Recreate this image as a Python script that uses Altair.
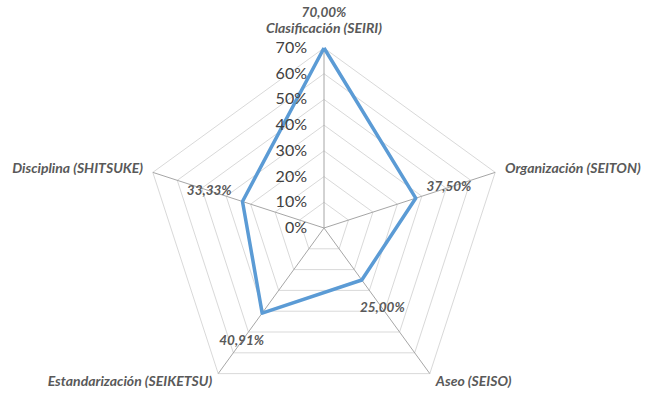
import altair as alt
import pandas as pd

categories = ["Clasificación (SEIRI)", "Organización (SEITON)", "Aseo (SEISO)",
              "Estandarización (SEIKETSU)", "Disciplina (SHITSUKE)"]
values = [70.00, 37.50, 25.00, 40.91, 33.33]
levels = [0, 10, 20, 30, 40, 50, 60, 70]
tick_labels = ["0%", "10%", "20%", "30%", "40%", "50%", "60%", "70%"]

n = len(categories)
series_df = pd.DataFrame({
    "i": list(range(n)) + [0],
    "o": list(range(n + 1)),
    "cat": categories + [categories[0]],
    "v": values + [values[0]],
})
grid_df = pd.DataFrame([
    {"level": lv, "i": k % n, "o": k}
    for lv in levels[1:] for k in range(n + 1)
])
spoke_df = pd.DataFrame({"i": list(range(n)), "cat": categories, "r": [max(levels)] * n})
tick_df = pd.DataFrame({"level": levels, "lab": tick_labels})

ANG = "PI/2 - datum.i*2*PI/5"
xs = alt.Scale(domain=[-126.0, 124.83], nice=False, zero=False)
ys = alt.Scale(domain=[-64.17, 88.67], nice=False, zero=False)


def X(f):
    return alt.X(f, type="quantitative", scale=xs, axis=None)


def Y(f):
    return alt.Y(f, type="quantitative", scale=ys, axis=None)


grid = alt.Chart(grid_df).transform_calculate(
    x=f"datum.level*cos({ANG})", y=f"datum.level*sin({ANG})"
).mark_line(color="#d9d9d9", strokeWidth=1).encode(
    x=X("x"), y=Y("y"), detail="level:N", order="o:Q"
)

spokes = alt.Chart(spoke_df).transform_calculate(
    x=f"datum.r*cos({ANG})", y=f"datum.r*sin({ANG})", x0="0", y0="0"
).mark_rule(color="#a6a6a6", strokeWidth=1).encode(
    x=X("x0"), y=Y("y0"), x2="x:Q", y2="y:Q"
)

line = alt.Chart(series_df).transform_calculate(
    x=f"datum.v*cos({ANG})", y=f"datum.v*sin({ANG})"
).mark_line(color="#5b9bd5", strokeWidth=3.5, strokeJoin="round").encode(
    x=X("x"), y=Y("y"), order="o:Q"
)

ticks = alt.Chart(tick_df).transform_calculate(
    x="0", y="datum.level"
).mark_text(align="right", baseline="middle", dx=-17, fontSize=16,
            font="Lato", color="#404040").encode(
    x=X("x"), y=Y("y"), text="lab:N"
)

vlabels = alt.Chart(series_df[series_df["o"] < n]).transform_calculate(
    x=f"(datum.v+13.6)*cos({ANG})", y=f"(datum.v+13.6)*sin({ANG})",
    t="replace(format(datum.v, '.2f'), '.', ',') + '%'"
).mark_text(align="center", baseline="middle", fontSize=13.5, font="Lato",
            fontStyle="italic", fontWeight="bold", color="#595959").encode(
    x=X("x"), y=Y("y"), text="t:N"
)

cat_base = alt.Chart(spoke_df).transform_calculate(
    x=f"74*cos({ANG})", y=f"74*sin({ANG})"
)
cat_style = dict(fontSize=14, font="Lato", fontStyle="italic", fontWeight="bold", color="#595959")
cat_top = cat_base.transform_filter("abs(datum.x) < 1").mark_text(
    align="center", baseline="bottom", dy=-2, **cat_style
).encode(x=X("x"), y=Y("y"), text="cat:N")
cat_right = cat_base.transform_filter("datum.x >= 1").mark_text(
    align="left", baseline="middle", **cat_style
).encode(x=X("x"), y=Y("y"), text="cat:N")
cat_left = cat_base.transform_filter("datum.x <= -1").mark_text(
    align="right", baseline="middle", **cat_style
).encode(x=X("x"), y=Y("y"), text="cat:N")

chart = alt.layer(grid, spokes, line, ticks, vlabels, cat_top, cat_right, cat_left).properties(
    width=645, height=393, padding=0,
    autosize=alt.AutoSizeParams(type="none"),
    background="white",
).configure_view(stroke=None)

chart.save("out.html", embed_options={"renderer": "svg", "actions": False})
